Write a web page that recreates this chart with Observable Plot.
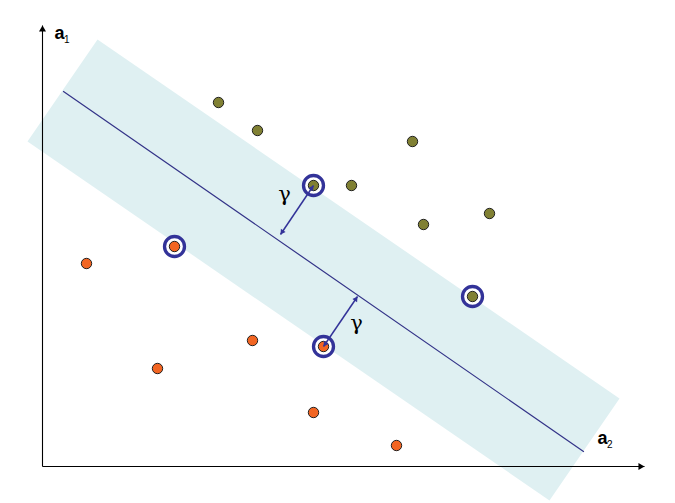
<!DOCTYPE html>
<html><head><meta charset="utf-8">
<script src="https://cdn.jsdelivr.net/npm/d3@7"></script>
<script src="https://cdn.jsdelivr.net/npm/@observablehq/plot@0.6"></script>
<style>body{margin:0;background:#fff;font-family:"Liberation Sans",Arial,sans-serif} #chart{width:675px;height:503px}</style>
</head><body><div id="chart"></div>
<script>
// data coordinates: a2 (horizontal), a1 (vertical), origin at the axes' corner
const classA = [[176,364],[215,336],[370,325],[271,281],[309,281],[381,242],[447,253],[430,170]]; // olive
const classB = [[44,203],[132,220],[115,98],[210,126],[281,120],[271,54],[354,21]]; // orange
const supportVectors = [[271,281],[430,170],[132,220],[281,120]];
const marginBand = [[55,427],[577,68],[507,-34],[-15,325]];
const hyperplane = [[21,375],[541,15]];
const gammaArrows = [{x1:271,y1:281,x2:238,y2:232},{x1:281,y1:120,x2:315,y2:170}];
const gammaLabels = [{x:242,y:269,text:"γ"},{x:314,y:140,text:"γ"}];
const axisLines = [{x1:0,y1:0,x2:602,y2:0},{x1:0,y1:0,x2:0,y2:441}];
const axisLabels = [{x:12,y:428,base:"a",sub:"1"},{x:555,y:23,base:"a",sub:"2"}];

// arrowhead placement (triangle symbol centred so its tip touches the endpoint)
function heads(segs, r, both) {
  const tip = 2 * Math.sqrt(Math.PI * r * r / (3 * Math.sqrt(3)));
  const out = [];
  for (const s of segs) {
    const ends = both ? [[s.x1,s.y1,s.x2,s.y2],[s.x2,s.y2,s.x1,s.y1]] : [[s.x1,s.y1,s.x2,s.y2]];
    for (const [ax,ay,bx,by] of ends) {
      const dx = bx-ax, dy = by-ay, L = Math.hypot(dx,dy);
      out.push({x: bx - dx/L*tip, y: by - dy/L*tip, rotate: Math.atan2(dx, dy)*180/Math.PI});
    }
  }
  return out;
}

const navy = "#333399";
const chart = Plot.plot({
  width: 675, height: 503,
  marginTop: 0, marginRight: 0, marginBottom: 0, marginLeft: 0,
  x: {domain: [-42, 633], range: [0, 675], axis: null},
  y: {domain: [-37, 466], range: [503, 0], axis: null},
  marks: [
    Plot.line(marginBand, {x: d => d[0], y: d => d[1], fill: "#dff0f2", stroke: "none"}),
    Plot.line(hyperplane, {x: d => d[0], y: d => d[1], stroke: "#333388", strokeWidth: 1.2}),
    Plot.link(axisLines, {x1: "x1", y1: "y1", x2: "x2", y2: "y2", stroke: "#000", strokeWidth: 1.1}),
    Plot.dot(heads(axisLines, 2.6, false), {x: "x", y: "y", rotate: "rotate", symbol: "triangle", r: 2.6, fill: "#000", stroke: "none"}),
    Plot.dot(supportVectors, {x: d => d[0], y: d => d[1], r: 10, fill: "white", stroke: navy, strokeWidth: 3.3}),
    Plot.dot(classA, {x: d => d[0], y: d => d[1], r: 5.2, fill: "#808033", stroke: "#222", strokeWidth: 1}),
    Plot.dot(classB, {x: d => d[0], y: d => d[1], r: 5.2, fill: "#f26522", stroke: "#222", strokeWidth: 1}),
    Plot.link(gammaArrows, {x1: "x1", y1: "y1", x2: "x2", y2: "y2", stroke: navy, strokeWidth: 1.5}),
    Plot.dot(heads(gammaArrows, 2.1, true), {x: "x", y: "y", rotate: "rotate", symbol: "triangle", r: 2.1, fill: navy, stroke: "none"}),
    Plot.text(gammaLabels, {x: "x", y: "y", text: "text", fontFamily: "DejaVu Serif, serif", fontSize: 21, fill: "#000", lineAnchor: "middle", dy: -3}),
    Plot.text(axisLabels, {x: "x", y: "y", text: "base", textAnchor: "start", lineAnchor: "bottom", fontSize: 18, fontWeight: "bold", fill: "#000", fontFamily: "Liberation Sans, Arial, sans-serif"}),
    Plot.text(axisLabels, {x: "x", y: "y", text: "sub", textAnchor: "start", lineAnchor: "bottom", dx: 9.5, dy: 4, fontSize: 10, fill: "#000", fontFamily: "Liberation Sans, Arial, sans-serif"})
  ]
});
document.getElementById("chart").append(chart);
</script>
</body></html>
